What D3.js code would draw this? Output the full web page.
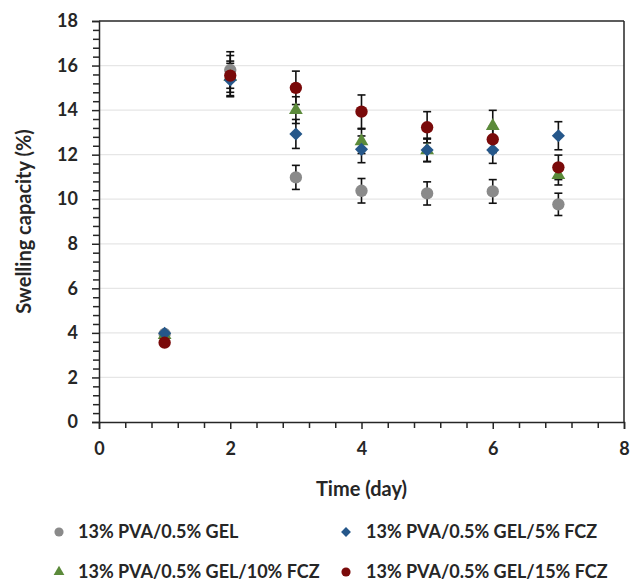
<!DOCTYPE html>
<html>
<head>
<meta charset="utf-8">
<script src="https://cdn.jsdelivr.net/npm/d3@7"></script>
<style>
  html, body { margin: 0; padding: 0; background: #fff; }
  svg text { font-family: Lato, "Open Sans", sans-serif; font-weight: 700; fill: #262626; }
</style>
</head>
<body>
<svg id="chart" width="633" height="582"></svg>
<script>
// Swelling capacity over time for the four hydrogel formulations
const days = [1, 2, 3, 4, 5, 6, 7];

const gelMean    = [3.95, 15.8, 10.98, 10.38, 10.26, 10.35, 9.77];
const gelErr     = [0.15, 0.82, 0.54, 0.55, 0.52, 0.53, 0.5];

const fcz5Mean   = [3.98, 15.35, 12.93, 12.24, 12.21, 12.21, 12.85];
const fcz5Err    = [0.1, 0.75, 0.65, 0.6, 0.53, 0.6, 0.63];

const fcz10Mean  = [3.9, 15.5, 14.0, 12.6, 12.2, 13.29, 11.09];
const fcz10Err   = [0.1, 0.7, 0.6, 0.55, 0.5, 0.7, 0.45];

const fcz15Mean  = [3.56, 15.55, 15.0, 13.93, 13.23, 12.69, 11.43];
const fcz15Err   = [0.1, 0.9, 0.75, 0.75, 0.7, 0.6, 0.55];

const seriesNames = [
  "13% PVA/0.5% GEL",
  "13% PVA/0.5% GEL/5% FCZ",
  "13% PVA/0.5% GEL/10% FCZ",
  "13% PVA/0.5% GEL/15% FCZ"
];
const seriesColors = ["#8a8a8a", "#25578a", "#5b8a3a", "#7a0a0a"];
const seriesSymbols = [d3.symbolCircle, d3.symbolDiamond2, d3.symbolTriangle, d3.symbolCircle];
const markerSize = [120, 110, 82, 120];
const legendMarkerSize = [66, 62, 50, 66];
// stacking of the markers: gray, 10% FCZ, 5% FCZ, 15% FCZ on top
const drawOrder = [0, 2, 1, 3];

const xTicks = [0, 2, 4, 6, 8];
const yTicks = [0, 2, 4, 6, 8, 10, 12, 14, 16, 18];

const xLabel = "Time (day)";
const yLabel = "Swelling capacity (%)";

const series = [
  { mean: gelMean, err: gelErr },
  { mean: fcz5Mean, err: fcz5Err },
  { mean: fcz10Mean, err: fcz10Err },
  { mean: fcz15Mean, err: fcz15Err }
].map((s, i) => ({
  name: seriesNames[i], color: seriesColors[i], symbol: seriesSymbols[i],
  size: markerSize[i], legendSize: legendMarkerSize[i],
  points: days.map((d, j) => ({ day: d, value: s.mean[j], err: s.err[j] }))
}));

const svg = d3.select("#chart");
const plotLeft = 99, plotRight = 624, plotTop = 21, plotBottom = 422;

const x = d3.scaleLinear().domain([0, 8]).range([plotLeft, plotRight]);
const y = d3.scaleLinear().domain([0, 18]).range([plotBottom, plotTop]);

// horizontal gridlines
svg.append("g")
  .selectAll("line")
  .data(yTicks.filter(t => t > 0 && t < 18))
  .join("line")
  .attr("x1", plotLeft).attr("x2", plotRight)
  .attr("y1", d => y(d)).attr("y2", d => y(d))
  .attr("stroke", "#e6e6e6").attr("stroke-width", 1.2);

// minor ticks every 0.4
const isMajor = v => Math.abs(v / 2 - Math.round(v / 2)) < 1e-6;
const minorX = d3.range(0, 8.001, 0.4).filter(v => !isMajor(v));
const minorY = d3.range(0, 18.001, 0.4).filter(v => !isMajor(v));

const xAxis = svg.append("g")
  .attr("transform", `translate(0,${plotBottom})`)
  .call(d3.axisBottom(x).tickValues(xTicks).tickSize(7).tickPadding(13).tickFormat(d3.format("d")));
svg.append("g")
  .attr("transform", `translate(0,${plotBottom})`)
  .call(d3.axisBottom(x).tickValues(minorX).tickSize(6).tickFormat(""))
  .call(g => g.select(".domain").remove());

const yAxis = svg.append("g")
  .attr("transform", `translate(${plotLeft},0)`)
  .call(d3.axisLeft(y).tickValues(yTicks).tickSize(7).tickPadding(14).tickFormat(d3.format("d")));
svg.append("g")
  .attr("transform", `translate(${plotLeft},0)`)
  .call(d3.axisLeft(y).tickValues(minorY).tickSize(6).tickFormat(""))
  .call(g => g.select(".domain").remove());

svg.selectAll(".tick line").attr("stroke", "#262626").attr("stroke-width", 1.5);
svg.selectAll(".domain").attr("stroke", "#262626").attr("stroke-width", 1.5);
xAxis.selectAll("text").style("font-size", "18px").attr("fill", "#262626");
yAxis.selectAll("text").style("font-size", "18px").attr("fill", "#262626");

// top and right frame
svg.append("line").attr("x1", plotLeft).attr("x2", plotRight).attr("y1", plotTop).attr("y2", plotTop)
  .attr("stroke", "#262626").attr("stroke-width", 1.5);
svg.append("line").attr("x1", plotRight).attr("x2", plotRight).attr("y1", plotTop).attr("y2", plotBottom)
  .attr("stroke", "#262626").attr("stroke-width", 1.5);

// axis titles
svg.append("text")
  .attr("x", (plotLeft + plotRight) / 2).attr("y", 496)
  .attr("text-anchor", "middle")
  .style("font-size", "20px")
  .text(xLabel);
svg.append("text")
  .attr("transform", `translate(31,${(plotTop + plotBottom) / 2}) rotate(-90)`)
  .attr("text-anchor", "middle")
  .style("font-size", "20px")
  .text(yLabel);

// error bars
const capHalf = 4;
const allPoints = series.flatMap(s => s.points);
const eb = svg.append("g").attr("stroke", "#111").attr("stroke-width", 1.6);
eb.selectAll("line.v").data(allPoints).join("line").attr("class", "v")
  .attr("x1", d => x(d.day)).attr("x2", d => x(d.day))
  .attr("y1", d => y(d.value + d.err)).attr("y2", d => y(d.value - d.err));
eb.selectAll("line.t").data(allPoints).join("line").attr("class", "t")
  .attr("x1", d => x(d.day) - capHalf).attr("x2", d => x(d.day) + capHalf)
  .attr("y1", d => y(d.value + d.err)).attr("y2", d => y(d.value + d.err));
eb.selectAll("line.b").data(allPoints).join("line").attr("class", "b")
  .attr("x1", d => x(d.day) - capHalf).attr("x2", d => x(d.day) + capHalf)
  .attr("y1", d => y(d.value - d.err)).attr("y2", d => y(d.value - d.err));

// markers
drawOrder.forEach(i => {
  const s = series[i];
  svg.append("g").selectAll("path")
    .data(s.points)
    .join("path")
    .attr("transform", d => `translate(${x(d.day)},${y(d.value)})`)
    .attr("d", d3.symbol().type(s.symbol).size(s.size))
    .attr("fill", s.color);
});

// legend
const legendPos = [
  { mx: 59, tx: 78, y: 532 },
  { mx: 346, tx: 366, y: 532 },
  { mx: 59, tx: 78, y: 572 },
  { mx: 346, tx: 366, y: 572 }
];
series.forEach((s, i) => {
  const p = legendPos[i];
  svg.append("path")
    .attr("transform", `translate(${p.mx},${p.y})`)
    .attr("d", d3.symbol().type(s.symbol).size(s.legendSize))
    .attr("fill", s.color);
  svg.append("text")
    .attr("x", p.tx).attr("y", p.y)
    .attr("dy", "0.35em")
    .style("font-size", "18px")
    .text(s.name);
});
</script>
</body>
</html>
